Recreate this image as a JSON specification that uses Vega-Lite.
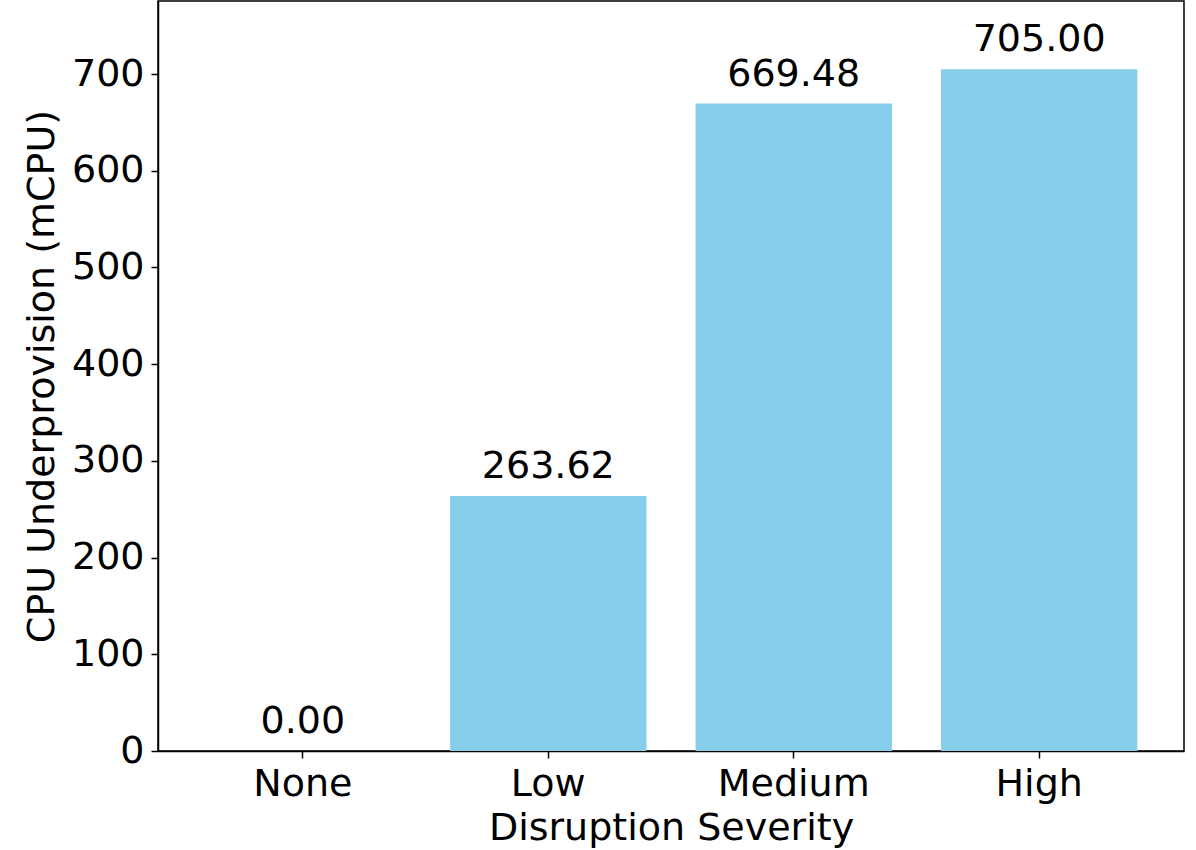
{
  "$schema": "https://vega.github.io/schema/vega-lite/v6.json",
  "width": 1026,
  "height": 750,
  "autosize": "none",
  "padding": {"left": 158, "top": 1, "right": 12, "bottom": 99},
  "background": "white",
  "config": {
    "font": "DejaVu Sans",
    "view": {"stroke": "black", "strokeWidth": 1.5},
    "axis": {
      "labelFont": "DejaVu Sans",
      "titleFont": "DejaVu Sans",
      "labelFontSize": 38,
      "titleFontSize": 38,
      "labelColor": "black",
      "titleColor": "black",
      "titleFontWeight": "normal",
      "domainColor": "black",
      "domainWidth": 1.5,
      "tickColor": "black",
      "tickWidth": 1.5,
      "tickSize": 7,
      "grid": false,
      "labelPadding": 7
    }
  },
  "data": {
    "values": [
      {"severity": "None", "value": 0.0},
      {"severity": "Low", "value": 263.62},
      {"severity": "Medium", "value": 669.48},
      {"severity": "High", "value": 705.0}
    ]
  },
  "encoding": {
    "x": {
      "field": "severity",
      "type": "nominal",
      "sort": ["None", "Low", "Medium", "High"],
      "scale": {"paddingInner": 0.2, "paddingOuter": 0.19},
      "axis": {"title": "Disruption Severity", "labelAngle": 0, "titlePadding": 6}
    },
    "y": {
      "field": "value",
      "type": "quantitative",
      "scale": {"domain": [0, 775.5], "nice": false, "zero": true},
      "axis": {"title": "CPU Underprovision (mCPU)", "values": [0, 100, 200, 300, 400, 500, 600, 700], "titlePadding": 10}
    }
  },
  "layer": [
    {"mark": {"type": "bar", "color": "#87CEEB"}},
    {
      "mark": {"type": "text", "fontSize": 38, "font": "DejaVu Sans", "color": "black", "baseline": "alphabetic", "dy": -18},
      "encoding": {"text": {"field": "value", "type": "quantitative", "format": ".2f"}}
    }
  ]
}
